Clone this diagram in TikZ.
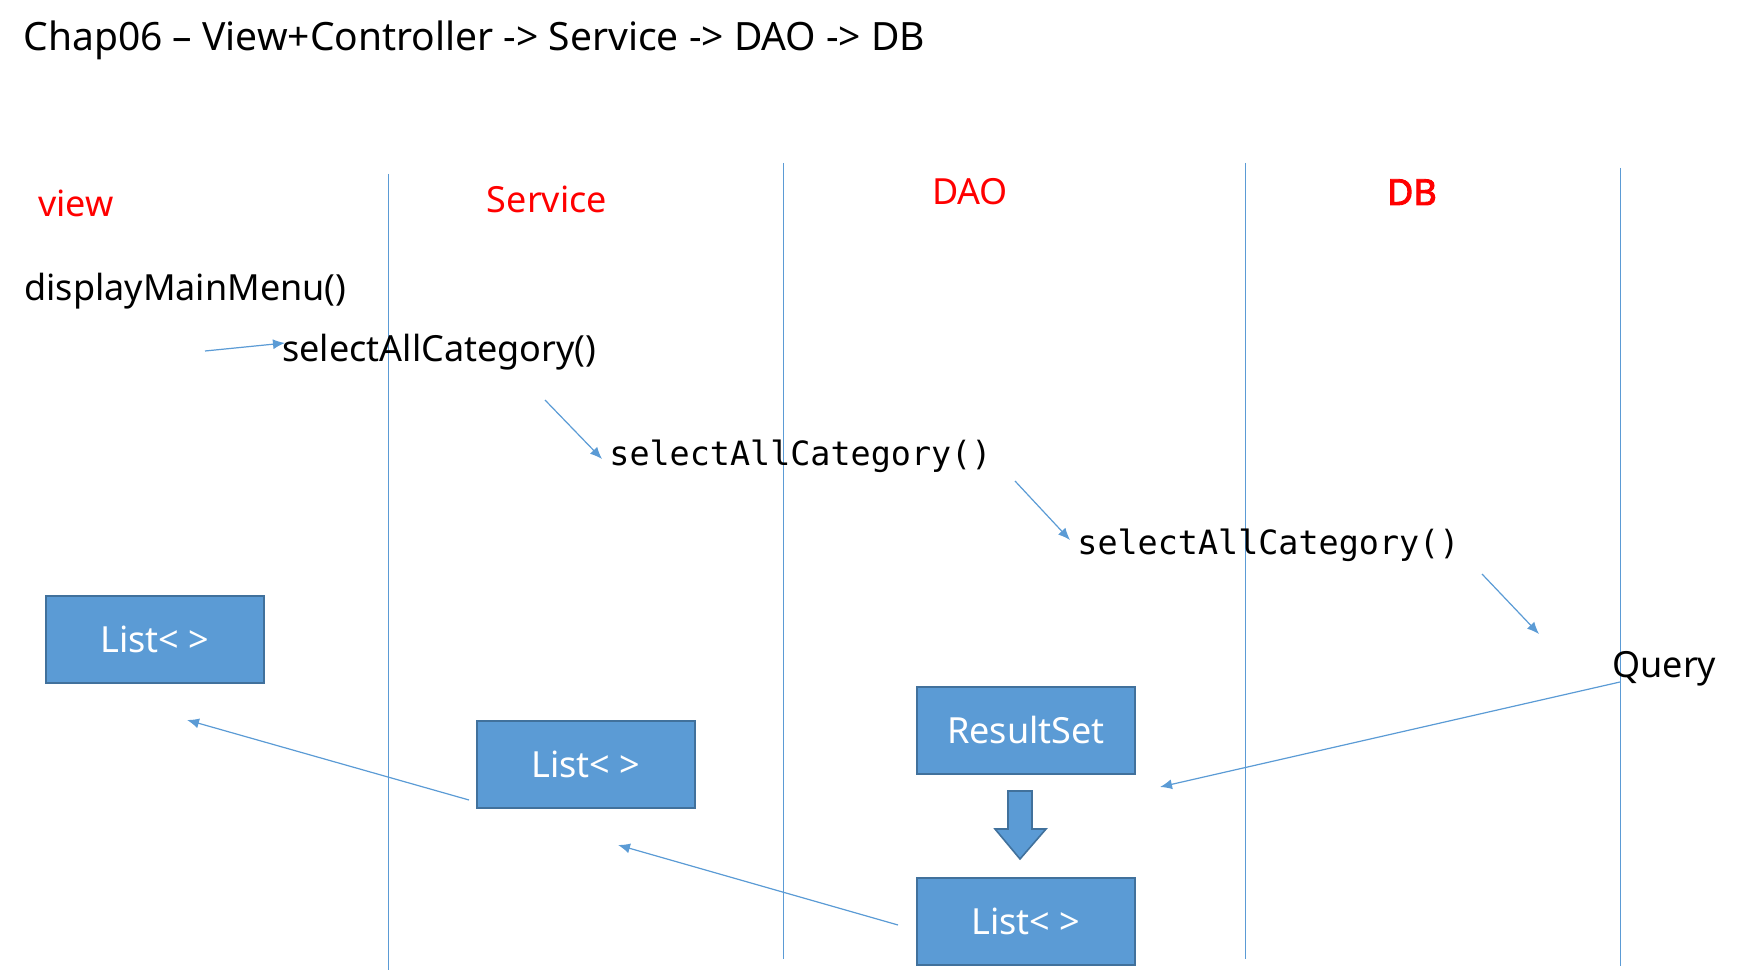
\documentclass[tikz,border=0pt]{standalone}
\usepackage{fontspec}
\setmainfont{Noto Sans}[AutoFakeBold=2.5]
\setmonofont{DejaVu Sans Mono}
\usetikzlibrary{arrows.meta}
\definecolor{boxblue}{HTML}{5B9BD5}
\definecolor{boxedge}{HTML}{41719C}
\definecolor{lineblue}{HTML}{5B9BD5}

\begin{document}
\begin{tikzpicture}[x=0.5pt, y=-0.5pt,
  txt/.style={inner sep=0pt, font=\fontsize{18pt}{22pt}\selectfont},
  lane/.style={txt, text=red, anchor=base},
  code/.style={inner sep=0pt, font=\ttfamily\fontsize{16.7pt}{20pt}\selectfont, anchor=base west},
  res/.style={txt, draw=boxedge, line width=1pt, fill=boxblue, text=white, minimum width=109pt, minimum height=43.5pt},
  life/.style={draw=lineblue, line width=0.5pt},
  arr/.style={draw=lineblue, line width=0.6pt, -{Latex[length=6pt,width=5pt]}}]
\useasboundingbox (0,0) rectangle (1737,973);
% title
\node[txt, anchor=base west, font=\fontsize{19.5pt}{24pt}\selectfont] (title) at (23,51) {Chap06 – View+Controller -> Service -> DAO -> DB};
% lifelines
\foreach \n/\x/\t/\b in {1/388/174/970, 2/783/163/959, 3/1245/163/959, 4/1620/168/966}
  \draw[life] (\x,\t) coordinate (top\n) -- (\x,\b) coordinate (bot\n);
% lane names
\node[lane] (view) at (76,217)  {view};
\node[lane] (svc)  at (547,213) {Service};
\node[lane] (dao)  at (970,205) {DAO};
\node[lane, font=\fontsize{18pt}{22pt}\selectfont\bfseries] (db) at (1412,205) {DB};
% calls
\node[txt, anchor=base west] (menu) at (24,301)  {displayMainMenu()};
\node[txt, anchor=base west] (scat) at (282,362) {selectAllCategory()};
\node[code] (dcat) at (609,466)  {selectAllCategory()};
\node[code] (qcat) at (1077,554) {selectAllCategory()};
\node[txt, anchor=base west] (query) at (1612,677) {Query};
% results
\node[res] (rs)    at (1026,730) {ResultSet};
\node[res] (list3) at (1026,921) {List< >};
\node[res] (list2) at (586,764)  {List< >};
\node[res] (list1) at (155,639)  {List< >};
\draw[draw=boxedge, fill=boxblue, line width=0.8pt] (1008,791) -- (1032,791) -- (1032,829) -- (1046,829)
  -- (1020,859) -- (995,829) -- (1008,829) -- cycle;
% arrow ends
\coordinate (c1a) at (205,351);  \coordinate (c1b) at (285,343);
\coordinate (c2a) at (545,400);  \coordinate (c2b) at (602,459);
\coordinate (c3a) at (1015,481); \coordinate (c3b) at (1070,540);
\coordinate (c4a) at (1482,574); \coordinate (c4b) at (1539,634);
\coordinate (qa)  at (1620,682); \coordinate (qb)  at (1160,787);
\coordinate (r3a) at (898,925);  \coordinate (r3b) at (618,845);
\coordinate (r2a) at (469,800);  \coordinate (r2b) at (187,720);
% arrows
\draw[arr] (c1a) -- (c1b);
\draw[arr] (c2a) -- (c2b);
\draw[arr] (c3a) -- (c3b);
\draw[arr] (c4a) -- (c4b);
\draw[arr] (qa) -- (qb);
\draw[arr] (r3a) -- (r3b);
\draw[arr] (r2a) -- (r2b);
\end{tikzpicture}
\end{document}
